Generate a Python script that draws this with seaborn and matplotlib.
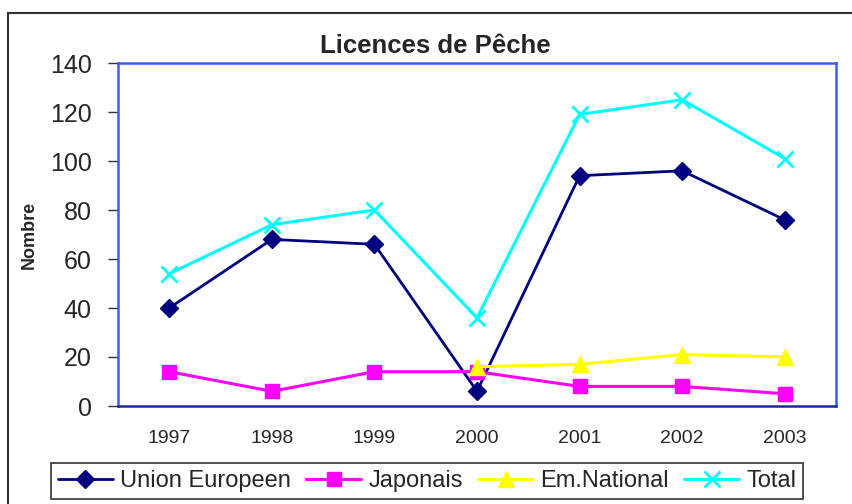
import numpy as np
import pandas as pd
import matplotlib
matplotlib.use("Agg")
import matplotlib.pyplot as plt
import seaborn as sns
from matplotlib.patches import Rectangle

# data
years = ["1997", "1998", "1999", "2000", "2001", "2002", "2003"]
union_europeen = [40, 68, 66, 6, 94, 96, 76]
japonais = [14, 6, 14, 14, 8, 8, 5]
em_national = [np.nan, np.nan, np.nan, 16, 17, 21, 20]
total = [54, 74, 80, 36, 119, 125, 101]

sns.set_style("white")
plt.rcParams["font.family"] = ["Liberation Sans", "DejaVu Sans"]

pos = np.arange(len(years))
df = pd.DataFrame({"pos": pos, "Union Europeen": union_europeen, "Japonais": japonais,
                   "Em.National": em_national, "Total": total})

fig = plt.figure(figsize=(8.53, 5.04), dpi=100)
ax = fig.add_axes([118 / 853, 1 - 406 / 504, (836 - 118) / 853, (406 - 63) / 504])

series = [
    ("Union Europeen", "#000080", "D", 9, 2.0),
    ("Japonais", "#ff00ff", "s", 10, 2.2),
    ("Em.National", "#ffff00", "^", 11, 2.2),
    ("Total", "#00ffff", "x", 11, 2.2),
]
for name, col, mk, ms, lw in series:
    d = df[["pos", name]].dropna()
    sns.lineplot(data=d, x="pos", y=name, ax=ax, color=col, marker=mk, markersize=ms,
                 markeredgecolor=col, markeredgewidth=2 if mk == "x" else 1,
                 linewidth=lw, label=name, legend=False)

ax.set_xlim(-0.5, len(years) - 0.5)
ax.set_ylim(0, 140)
ax.set_yticks(range(0, 141, 20))
ax.set_xticks(pos)
ax.set_xticklabels(years)
ax.set_xticks(np.arange(-0.5, len(years)), minor=True)
ax.tick_params(axis="x", which="major", length=0, pad=17, labelsize=14)
ax.tick_params(axis="x", which="minor", length=7, width=1, color="#333333", direction="out")
ax.tick_params(axis="y", length=7, width=1, color="#333333", direction="out", pad=12, labelsize=18)
ax.tick_params(bottom=True, left=True)
ax.set_xlabel("")
ax.set_ylabel("Nombre", fontsize=13, fontweight="bold")
ax.yaxis.set_label_coords((38 - 118) / 718, 0.5)

for s in ax.spines.values():
    s.set_color("#3a5ff0")
    s.set_linewidth(1.8)
ax.spines["bottom"].set_color("#1a2a9a")

fig.text(435 / 853, 1 - 46 / 504, "Licences de Pêche", ha="center", va="center",
         fontsize=18.5, fontweight="bold")

handles, labels = ax.get_legend_handles_labels()
leg = fig.legend(handles, labels, loc="center", bbox_to_anchor=(427 / 853, 1 - 481 / 504),
                 ncol=4, fontsize=17, frameon=True, fancybox=False, edgecolor="black",
                 handlelength=2.33, columnspacing=0.65, handletextpad=0.3, borderpad=0.3,
                 borderaxespad=0)
leg.get_frame().set_linewidth(1.2)

# outer chart frame
fig.add_artist(Rectangle((8 / 853, -0.1), 1.0, 1.1 - 13 / 504, transform=fig.transFigure,
                         fill=False, edgecolor="#333333", linewidth=1.5, clip_on=False))

fig.savefig("out.png", dpi=100)
